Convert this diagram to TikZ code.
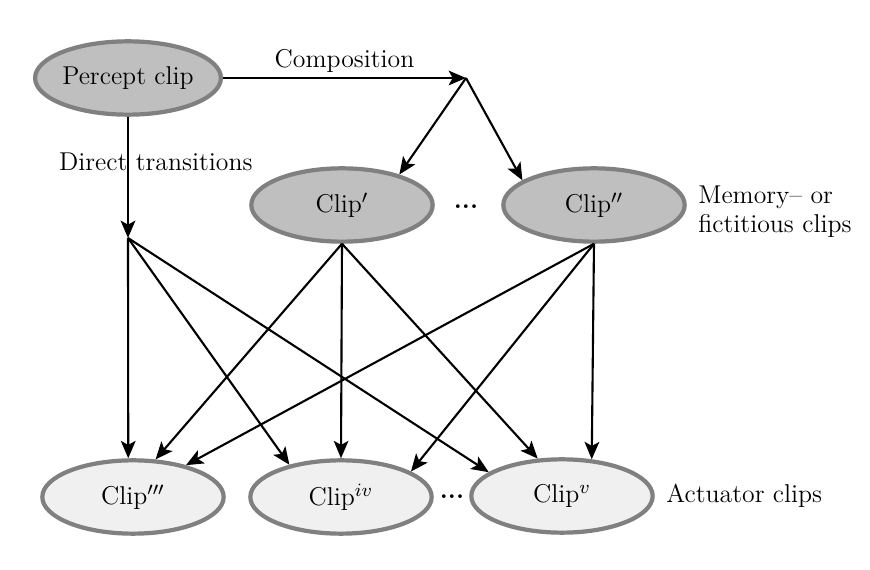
\documentclass[tikz,border=0pt]{standalone}
\usepackage{amsmath}
\usepackage{tikz}
\usetikzlibrary{positioning,arrows.meta,shapes.geometric}

\begin{document}
\begin{tikzpicture}[
  x=0.015cm,y=-0.015cm,
  font=\fontsize{11}{12.5}\selectfont,
  clip/.style={ellipse,draw=black!50,line width=1.8pt,minimum width=2.72cm,minimum height=1.1cm,inner sep=0pt},
  mem/.style={clip,fill=black!25},
  act/.style={clip,fill=black!6},
  link/.style={-{Stealth[length=2.6mm,width=2.2mm,inset=0.6mm]},line width=0.9pt},
  >=Stealth]
\useasboundingbox (0,0) rectangle (870,570);
% upper row
\node[mem] (percept) at (128,78) {Percept clip};
\node[mem] (clipa) at (342,205) {Clip$'$};
\node[mem] (clipb) at (594,205) {Clip$''$};
\node (dotsa) at (466,207) {\textbf{...}};
\node[right=0.5mm of clipb,yshift=-1mm,align=left] (memlbl) {Memory-- or\\fictitious clips};
\coordinate (comp) at (466,78);
\coordinate (dir) at (128,238);
% lower row
\node[act] (clipc) at (133,497) {Clip$'''$};
\node[act] (clipd) at (341,497) {Clip$^{iv}$};
\node[act] (clipe) at (562,496) {Clip$^{v}$};
\node (dotsb) at (452,497) {\textbf{...}};
\node[right=0.5mm of clipe] (actlbl) {Actuator clips};
% connectors
\draw[link] (percept) -- node[above=-0.5mm] {Composition} (comp);
\draw[link] (comp) -- (clipa.28);
\draw[link] (comp) -- (clipb.161);
\draw[link] (percept.south) -- node[pos=0.37,anchor=west,inner sep=0pt,xshift=-1.05cm] {Direct transitions} (dir);
\draw[link] (dir) -- (clipc.97);
\draw[link] (dir) -- (clipd.148);
\draw[link] (dir) -- (clipe.162);
\draw[link] (clipa.south) -- (clipc.59);
\draw[link] (clipa.south) -- (clipd.north);
\draw[link] (clipa.south) -- (clipe.123);
\draw[link] (clipb.south) -- (clipc.31);
\draw[link] (clipb.south) -- (clipd.20);
\draw[link] (clipb.south) -- (clipe.51);
\end{tikzpicture}
\end{document}
